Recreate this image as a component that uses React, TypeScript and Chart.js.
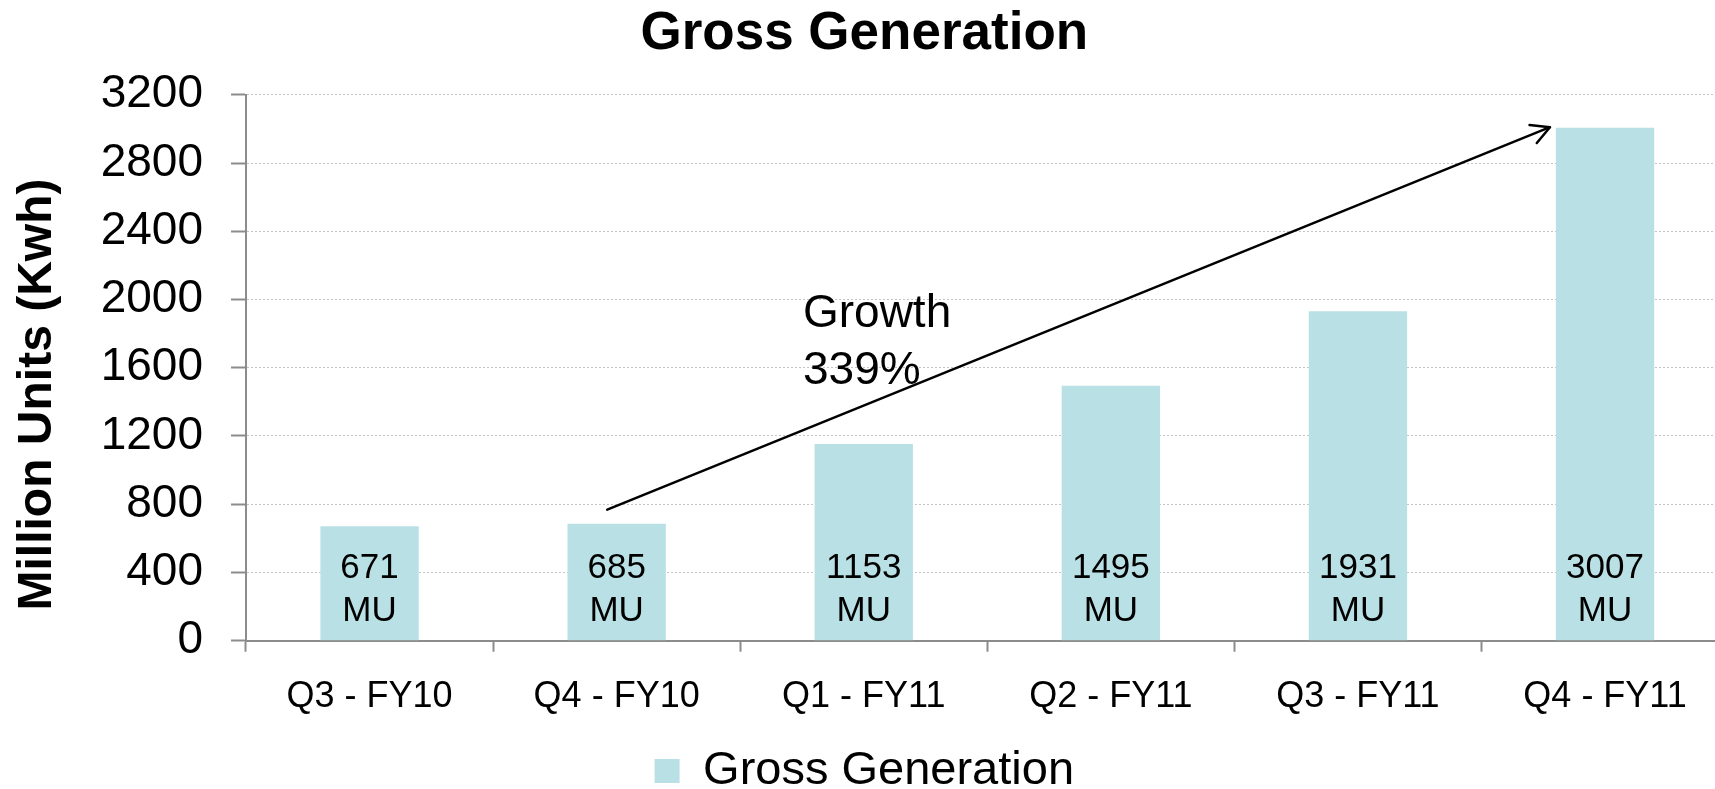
import React, { useEffect, useRef } from 'react';
import { Chart, registerables } from 'chart.js';

Chart.register(...registerables);

const FONT = '"Liberation Sans", Arial, Helvetica, sans-serif';

const categories = ['Q3 - FY10', 'Q4 - FY10', 'Q1 - FY11', 'Q2 - FY11', 'Q3 - FY11', 'Q4 - FY11'];
const grossGeneration = [671, 685, 1153, 1495, 1931, 3007];
const valueUnit = 'MU';
const yTicks = [0, 400, 800, 1200, 1600, 2000, 2400, 2800, 3200];
const chartTitle = 'Gross Generation';
const seriesName = 'Gross Generation';
const yAxisTitle = 'Million Units (Kwh)';
const growthLines = ['Growth', '339%'];
// annotation anchors in data space: [category index, value]
const growthAnchor = [1.754, 1840];
const arrowFrom = [0.962, 768];
const arrowTo = [4.777, 3010];

const overlayPlugin = {
  id: 'overlay',
  afterDatasetsDraw(chart: any) {
    const { ctx } = chart;
    const xs = chart.scales.x;
    const ys = chart.scales.y;
    const meta = chart.getDatasetMeta(0);
    const zero = ys.getPixelForValue(0);
    ctx.save();
    ctx.fillStyle = '#000';
    ctx.font = `35px ${FONT}`;
    ctx.textAlign = 'center';
    ctx.textBaseline = 'alphabetic';
    meta.data.forEach((bar: any, i: number) => {
      ctx.fillText(String(grossGeneration[i]), bar.x, zero - 62.7);
      ctx.fillText(valueUnit, bar.x, zero - 20);
    });

    // growth arrow
    const x1 = xs.getPixelForValue(arrowFrom[0]);
    const y1 = ys.getPixelForValue(arrowFrom[1]);
    const x2 = xs.getPixelForValue(arrowTo[0]);
    const y2 = ys.getPixelForValue(arrowTo[1]);
    ctx.strokeStyle = '#000';
    ctx.lineWidth = 2.5;
    ctx.lineCap = 'round';
    ctx.lineJoin = 'round';
    ctx.beginPath();
    ctx.moveTo(x1, y1);
    ctx.lineTo(x2, y2);
    ctx.stroke();
    const back = Math.atan2(y1 - y2, x1 - x2);
    const wing = 20.5;
    const spread = (28 * Math.PI) / 180;
    ctx.beginPath();
    ctx.moveTo(x2 + wing * Math.cos(back + spread), y2 + wing * Math.sin(back + spread));
    ctx.lineTo(x2, y2);
    ctx.lineTo(x2 + wing * Math.cos(back - spread), y2 + wing * Math.sin(back - spread));
    ctx.stroke();

    // growth text
    const gx = xs.getPixelForValue(growthAnchor[0]);
    const gy = ys.getPixelForValue(growthAnchor[1]);
    ctx.font = `46px ${FONT}`;
    ctx.textAlign = 'left';
    growthLines.forEach((t, i) => ctx.fillText(t, gx, gy + i * 57.3));
    ctx.restore();
  },
  afterDraw(chart: any) {
    const { ctx } = chart;
    ctx.save();
    ctx.translate(51, chart.height / 2);
    ctx.rotate(-Math.PI / 2);
    ctx.fillStyle = '#000';
    ctx.font = `bold 48px ${FONT}`;
    ctx.textAlign = 'center';
    ctx.textBaseline = 'alphabetic';
    ctx.fillText(yAxisTitle, 0, 0);
    ctx.restore();
  },
};

export default function App() {
  const ref = useRef<HTMLCanvasElement | null>(null);

  useEffect(() => {
    if (!ref.current) return;
    Chart.defaults.font.family = FONT;
    Chart.defaults.color = '#000';
    const chart = new Chart(ref.current, {
      type: 'bar',
      data: {
        labels: categories,
        datasets: [
          {
            label: seriesName,
            data: grossGeneration,
            backgroundColor: '#B9E0E4',
            borderWidth: 0,
            categoryPercentage: 1,
            barPercentage: 0.398,
          },
        ],
      },
      options: {
        animation: false,
        responsive: true,
        maintainAspectRatio: false,
        layout: { padding: { left: 0, right: 6.4, top: 0, bottom: -15.5 } },
        plugins: {
          title: {
            display: true,
            text: chartTitle,
            color: '#000',
            font: { size: 53, weight: 'bold', family: FONT },
            padding: { top: 3, bottom: 28.2 },
          },
          legend: {
            position: 'bottom',
            labels: {
              boxWidth: 25,
              boxHeight: 24,
              padding: 10,
              color: '#000',
              font: { size: 47, family: FONT },
            },
          },
          tooltip: { enabled: false },
        },
        scales: {
          x: {
            offset: true,
            grid: {
              display: true,
              drawOnChartArea: false,
              drawTicks: true,
              offset: true,
              tickLength: 11,
              tickColor: '#8c8c8c',
              tickWidth: 2,
            },
            border: { display: true, color: '#8c8c8c', width: 2 },
            ticks: {
              color: '#000',
              font: { size: 36, family: FONT },
              padding: 24,
              maxRotation: 0,
              minRotation: 0,
              autoSkip: false,
            },
            afterFit: (s: any) => {
              s.height = 96.8;
            },
          },
          y: {
            min: yTicks[0],
            max: yTicks[yTicks.length - 1],
            ticks: {
              stepSize: yTicks[1] - yTicks[0],
              color: '#000',
              font: { size: 46, family: FONT },
              padding: 28,
              callback: (v: any) => String(v),
            },
            grid: {
              color: (c: any) => (c.tick && c.tick.value === 0 ? 'rgba(0,0,0,0)' : '#c4c4c4'),
              lineWidth: 1,
              tickLength: 15,
              tickColor: '#8c8c8c',
              tickWidth: 2,
              tickBorderDash: [100, 0],
            },
            border: { display: true, color: '#8c8c8c', width: 2, dash: [2, 2] },
            afterFit: (s: any) => {
              s.width = 246;
            },
          },
        },
      } as any,
      plugins: [overlayPlugin],
    });
    return () => chart.destroy();
  }, []);

  return (
    <div
      style={{
        position: 'fixed',
        left: 0,
        top: 0,
        width: 1715,
        height: 789,
        overflow: 'hidden',
        background: '#fff',
      }}
    >
      <div style={{ position: 'relative', width: 1735, height: 789 }}>
        <canvas ref={ref} />
      </div>
    </div>
  );
}
